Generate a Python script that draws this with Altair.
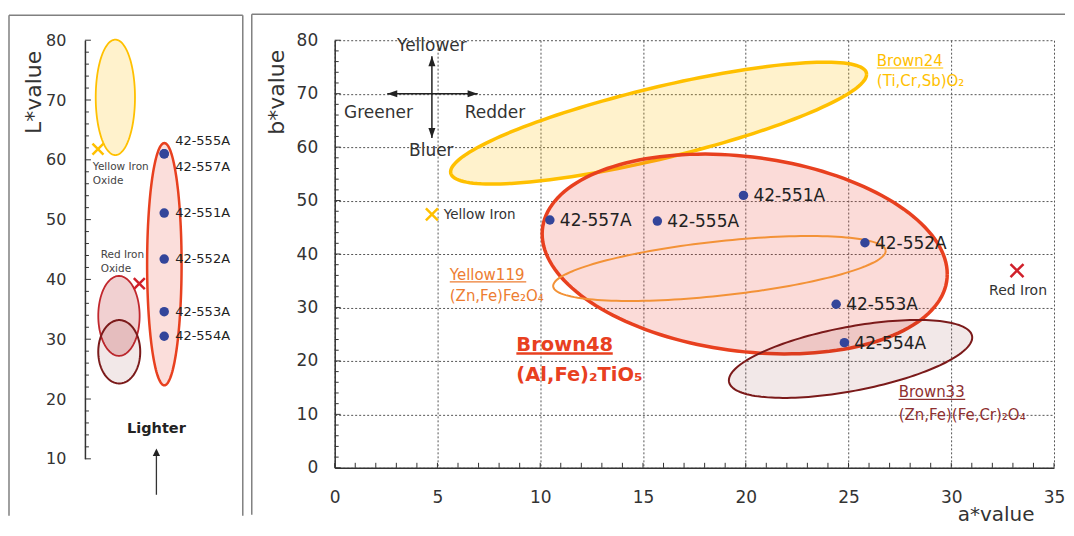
import math
import altair as alt
import pandas as pd

FONT = "DejaVu Sans"

# ---------------- data ----------------
samples = ["42-557A", "42-555A", "42-551A", "42-552A", "42-553A", "42-554A"]
a_star = [10.47, 15.70, 19.89, 25.80, 24.40, 24.80]
b_star = [46.36, 46.17, 50.97, 42.11, 30.60, 23.42]
L_star = [61.0, 61.0, 51.1, 43.4, 34.6, 30.5]

refs = ["Yellow Iron", "Red Iron"]
ref_a = [4.73, 33.2]
ref_b = [47.4, 36.9]
ref_L = [61.8, 39.3]

# pigment colour ranges in the a*-b* plane: centre, half-width, half-height, skew
pig_names = ["Brown24", "Brown48", "Yellow119", "Brown33"]
pig_formula = ["(Ti,Cr,Sb)O₂", "(Al,Fe)₂TiO₅", "(Zn,Fe)Fe₂O₄", "(Zn,Fe)(Fe,Cr)₂O₄"]
pig_ca = [15.76, 19.95, 18.72, 25.10]
pig_cb = [64.49, 40.0, 37.29, 20.37]
pig_wa = [10.12, 9.855, 8.09, 5.92]
pig_hb = [11.40, 18.69, 6.07, 7.29]
pig_skew = [0.80, -0.201, 0.54, 0.55]

# L* ranges (left panel): column position, centre L, half-width, half-height
lr_names = ["Yellow Iron Oxide", "Red Iron Oxide", "Brown33", "Brown48"]
lr_col = [2.03, 2.27, 2.29, 5.30]
lr_cL = [70.45, 33.9, 27.9, 42.55]
lr_w = [1.31, 1.38, 1.40, 1.15]
lr_h = [9.65, 6.68, 5.3, 20.25]
sample_col = 5.29

x_ticks = list(range(0, 36))
b_ticks = list(range(0, 81, 2))
L_ticks = list(range(10, 81, 2))


def ellipse(cx, cy, w, h, s, n=160):
    c = math.sqrt(1 - s * s)
    rows = []
    for i in range(n + 1):
        t = 2 * math.pi * i / n
        rows.append({"x": cx + w * math.cos(t),
                     "y": cy + h * (math.sin(t) * c + math.cos(t) * s),
                     "i": i})
    return pd.DataFrame(rows)


# ---------------- scales / axes ----------------
W_R, H_R = 720, 428
W_L, H_L = 150, 419
TXT = "#333333"

xs_R = alt.Scale(domain=[0, 35], nice=False, zero=False)
ys_R = alt.Scale(domain=[0, 80], nice=False, zero=False)
xs_L = alt.Scale(domain=[0, 10], nice=False, zero=False)
ys_L = alt.Scale(domain=[10, 80], nice=False, zero=False)

common_axis = dict(ticks=False, tickSize=0, labelFont=FONT, labelColor=TXT,
                   domainColor="#333333", domainWidth=1.5, titleFont=FONT,
                   titleFontWeight="normal", titleColor=TXT, labelFlush=False)

xaxis_R = alt.Axis(values=list(range(0, 36, 5)), grid=True, gridColor="#555555",
                   gridDash=[2, 2], gridWidth=1, labelPadding=22, labelFontSize=17,
                   title="a*value", titleFontSize=20, titleAlign="right",
                   titleBaseline="alphabetic", titleX=700, titleY=53, **common_axis)
yaxis_R = alt.Axis(values=list(range(0, 81, 10)), grid=True, gridColor="#555555",
                   gridDash=[2, 2], gridWidth=1, labelPadding=17, labelFontSize=17,
                   title="b*value", titleFontSize=22, titleAngle=270, titleAlign="right",
                   titleBaseline="middle", titleX=-58, titleY=9, **common_axis)
yaxis_L = alt.Axis(values=list(range(10, 81, 10)), grid=False, labelPadding=19,
                   labelFontSize=16, title="L*value", titleFontSize=22, titleAngle=270,
                   titleAlign="right", titleBaseline="middle", titleX=-51, titleY=10,
                   **common_axis)


def XR(f):
    return alt.X(f"{f}:Q", scale=xs_R, axis=xaxis_R)


def YR(f):
    return alt.Y(f"{f}:Q", scale=ys_R, axis=yaxis_R)


def XL(f):
    return alt.X(f"{f}:Q", scale=xs_L, axis=None)


def YL(f):
    return alt.Y(f"{f}:Q", scale=ys_L, axis=yaxis_L)


def ell_layer(df, X, Y, stroke, sw, fill=None, fop=None):
    kw = dict(stroke=stroke, strokeWidth=sw, interpolate="linear")
    if fill is not None:
        kw.update(fill=fill, fillOpacity=fop)
    return alt.Chart(df).mark_line(**kw).encode(x=X("x"), y=Y("y"), order="i:Q")


def text_layer(rows, X, Y, **props):
    df = pd.DataFrame(rows, columns=["t", "x", "y"])
    base = dict(font=FONT)
    base.update(props)
    return alt.Chart(df).mark_text(**base).encode(x=X("x"), y=Y("y"), text="t:N")


X_PATH = "M-1,-1L1,1M1,-1L-1,1"
BOX = "#808080"

# ================= right panel =================
r_layers = []

# inward ticks
r_layers.append(alt.Chart(pd.DataFrame({"v": x_ticks})).mark_rule(color="#333333", strokeWidth=1)
                .encode(x=XR("v"), y=alt.value(H_R), y2=alt.value(H_R - 5)))
bt = pd.DataFrame({"v": b_ticks})
bt["major"] = [v % 10 == 0 for v in b_ticks]
r_layers.append(alt.Chart(bt[~bt.major]).mark_rule(color="#333333", strokeWidth=1)
                .encode(y=YR("v"), x=alt.value(0), x2=alt.value(4)))
r_layers.append(alt.Chart(bt[bt.major]).mark_rule(color="#333333", strokeWidth=1)
                .encode(y=YR("v"), x=alt.value(0), x2=alt.value(6)))

ells = [ellipse(pig_ca[k], pig_cb[k], pig_wa[k], pig_hb[k], pig_skew[k]) for k in range(4)]
r_layers.append(ell_layer(ells[0], XR, YR, "#FFC000", 3.5, "#FFC000", 0.2))
r_layers.append(ell_layer(ells[1], XR, YR, "#E8401F", 3.5, "#EA4A3A", 0.2))
r_layers.append(ell_layer(ells[2], XR, YR, "#F39237", 2))
r_layers.append(ell_layer(ells[3], XR, YR, "#7B1A1A", 2, "#7B1A1A", 0.1))

# sample points
pts = pd.DataFrame({"name": samples, "a": a_star, "b": b_star, "L": L_star})
r_layers.append(alt.Chart(pts).mark_circle(size=90, color="#33459A", opacity=1)
                .encode(x=XR("a"), y=YR("b")))
r_layers.append(alt.Chart(pts).mark_text(align="left", baseline="middle", dx=10, dy=1,
                                         fontSize=17, font=FONT, color="#222222")
                .encode(x=XR("a"), y=YR("b"), text="name:N"))

# iron oxide references
refdf = pd.DataFrame({"name": refs, "a": ref_a, "b": ref_b, "L": ref_L})
r_layers.append(alt.Chart(refdf.iloc[[0]]).mark_point(shape=X_PATH, filled=False, size=144,
                                                      strokeWidth=2.5, color="#FFC000", opacity=1)
                .encode(x=XR("a"), y=YR("b")))
r_layers.append(alt.Chart(refdf.iloc[[1]]).mark_point(shape=X_PATH, filled=False, size=169,
                                                      strokeWidth=2.5, color="#D0202A", opacity=1)
                .encode(x=XR("a"), y=YR("b")))
r_layers.append(text_layer([["Yellow Iron", 5.31, 46.5]], XR, YR, align="left",
                           baseline="alphabetic", fontSize=13.5, color=TXT))
r_layers.append(text_layer([["Red Iron", 33.25, 32.3]], XR, YR, align="center",
                           baseline="alphabetic", fontSize=14, color=TXT))

# compass
r_layers.append(alt.Chart(pd.DataFrame({"x": [2.56], "x2": [6.96], "y": [70.0]}))
                .mark_rule(color="#222222", strokeWidth=1.5)
                .encode(x=XR("x"), x2="x2:Q", y=YR("y")))
r_layers.append(alt.Chart(pd.DataFrame({"x": [4.73], "y": [61.7], "y2": [77.0]}))
                .mark_rule(color="#222222", strokeWidth=1.5)
                .encode(x=XR("x"), y=YR("y"), y2="y2:Q"))
heads = [("M-1,0L1,-0.7L1,0.7Z", 2.80, 70.0), ("M1,0L-1,-0.7L-1,0.7Z", 6.71, 70.0),
         ("M0,-1L-0.7,1L0.7,1Z", 4.73, 76.07), ("M0,1L-0.7,-1L0.7,-1Z", 4.73, 62.62)]
for shp, hx, hy in heads:
    r_layers.append(alt.Chart(pd.DataFrame({"x": [hx], "y": [hy]}))
                    .mark_point(shape=shp, filled=True, size=100, color="#222222", opacity=1)
                    .encode(x=XR("x"), y=YR("y")))
r_layers.append(text_layer([["Yellower", 4.73, 77.9], ["Bluer", 4.7, 58.3],
                            ["Greener", 2.13, 65.4], ["Redder", 7.80, 65.4]], XR, YR,
                           align="center", baseline="alphabetic", fontSize=17, color=TXT))

# pigment labels
lab_specs = [
    (0, 26.38, 75.14, 71.4, 29.61, 74.80, "#FFC000", 15, "normal", 1.2),
    (2, 5.60, 35.14, 31.2, 9.32, 34.77, "#ED7D31", 15, "normal", 1.2),
    (1, 8.84, 21.87, 16.26, 13.53, 21.40, "#E8401F", 19.5, "bold", 2.5),
    (3, 27.44, 13.27, 8.97, 30.68, 12.80, "#8E3030", 15, "normal", 1.2),
]
for k, lx, ly1, ly2, ux2, uy, col, fs, fw, uw in lab_specs:
    r_layers.append(text_layer([[pig_names[k], lx, ly1], [pig_formula[k], lx, ly2]], XR, YR,
                               align="left", baseline="alphabetic", fontSize=fs,
                               fontWeight=fw, color=col))
    r_layers.append(alt.Chart(pd.DataFrame({"x": [lx], "x2": [ux2], "y": [uy]}))
                    .mark_rule(color=col, strokeWidth=uw)
                    .encode(x=XR("x"), x2="x2:Q", y=YR("y")))

# panel frame
r_layers.append(alt.Chart(pd.DataFrame({"k": [0]})).mark_rule(color=BOX, strokeWidth=1.5)
                .encode(x=alt.value(-83), y=alt.value(-26), y2=alt.value(475)))
r_layers.append(alt.Chart(pd.DataFrame({"k": [0]})).mark_rule(color=BOX, strokeWidth=1.5)
                .encode(x=alt.value(-83), x2=alt.value(731), y=alt.value(-26)))

right = alt.layer(*r_layers).properties(width=W_R, height=H_R)

# ================= left panel =================
l_layers = []
lt = pd.DataFrame({"v": L_ticks})
lt["major"] = [v % 10 == 0 for v in L_ticks]
l_layers.append(alt.Chart(lt[~lt.major]).mark_rule(color="#333333", strokeWidth=1)
                .encode(y=YL("v"), x=alt.value(0), x2=alt.value(4)))
l_layers.append(alt.Chart(lt[lt.major]).mark_rule(color="#333333", strokeWidth=1)
                .encode(y=YL("v"), x=alt.value(0), x2=alt.value(6)))

lells = [ellipse(lr_col[k], lr_cL[k], lr_w[k], lr_h[k], 0.0) for k in range(4)]
l_layers.append(ell_layer(lells[0], XL, YL, "#FFC000", 1.8, "#FFC000", 0.2))
l_layers.append(ell_layer(lells[1], XL, YL, "#C1272D", 1.8, "#C1272D", 0.22))
l_layers.append(ell_layer(lells[2], XL, YL, "#7B1A1A", 2, "#7B1A1A", 0.1))
l_layers.append(ell_layer(lells[3], XL, YL, "#E8401F", 2.5, "#EA4A3A", 0.18))

pts["col"] = sample_col
l_layers.append(alt.Chart(pts).mark_circle(size=90, color="#33459A", opacity=1)
                .encode(x=XL("col"), y=YL("L")))
lab_common = dict(align="left", baseline="middle", dx=11, fontSize=13, font=FONT, color="#222222")
l_layers.append(alt.Chart(pts.iloc[2:]).mark_text(**lab_common)
                .encode(x=XL("col"), y=YL("L"), text="name:N"))
l_layers.append(alt.Chart(pts[pts.name == "42-555A"]).mark_text(dy=-13, **lab_common)
                .encode(x=XL("col"), y=YL("L"), text="name:N"))
l_layers.append(alt.Chart(pts[pts.name == "42-557A"]).mark_text(dy=13, **lab_common)
                .encode(x=XL("col"), y=YL("L"), text="name:N"))

refdf["col"] = [0.87, 3.63]
l_layers.append(alt.Chart(refdf.iloc[[0]]).mark_point(shape=X_PATH, filled=False, size=121,
                                                      strokeWidth=2.5, color="#FFC000", opacity=1)
                .encode(x=XL("col"), y=YL("L")))
l_layers.append(alt.Chart(refdf.iloc[[1]]).mark_point(shape=X_PATH, filled=False, size=121,
                                                      strokeWidth=2.5, color="#D0202A", opacity=1)
                .encode(x=XL("col"), y=YL("L")))
l_layers.append(text_layer([["Yellow Iron", 0.53, 58.3], ["Oxide", 0.53, 55.9],
                            ["Red Iron", 1.05, 43.6], ["Oxide", 1.05, 41.2]], XL, YL,
                           align="left", baseline="alphabetic", fontSize=10.5, color="#444444"))
l_layers.append(text_layer([["Lighter", 4.77, 14.34]], XL, YL, align="center",
                           baseline="alphabetic", fontSize=14.5, fontWeight="bold",
                           color="#222222"))
l_layers.append(alt.Chart(pd.DataFrame({"x": [4.77], "y": [3.99], "y2": [10.6]}))
                .mark_rule(color="#333333", strokeWidth=1.3)
                .encode(x=XL("x"), y=YL("y"), y2="y2:Q"))
l_layers.append(alt.Chart(pd.DataFrame({"x": [4.77], "y": [11.1]}))
                .mark_point(shape="M0,-1L-1,1L1,1Z", filled=True, size=53, color="#222222",
                            opacity=1)
                .encode(x=XL("x"), y=YL("y")))

# panel frame
for enc in [dict(x=alt.value(-76), y=alt.value(-25), y2=alt.value(476)),
            dict(x=alt.value(158), y=alt.value(-25), y2=alt.value(476)),
            dict(x=alt.value(-76), x2=alt.value(158), y=alt.value(-25))]:
    l_layers.append(alt.Chart(pd.DataFrame({"k": [0]})).mark_rule(color=BOX, strokeWidth=1.5)
                    .encode(**enc))

left = alt.layer(*l_layers).properties(width=W_L, height=H_L)

chart = (alt.hconcat(left, right, spacing=7)
         .properties(padding={"left": 0, "top": 5, "right": 0, "bottom": 0})
         .configure(font=FONT)
         .configure_view(stroke=None))

chart.save("out.html", embed_options={"renderer": "svg", "actions": False})
